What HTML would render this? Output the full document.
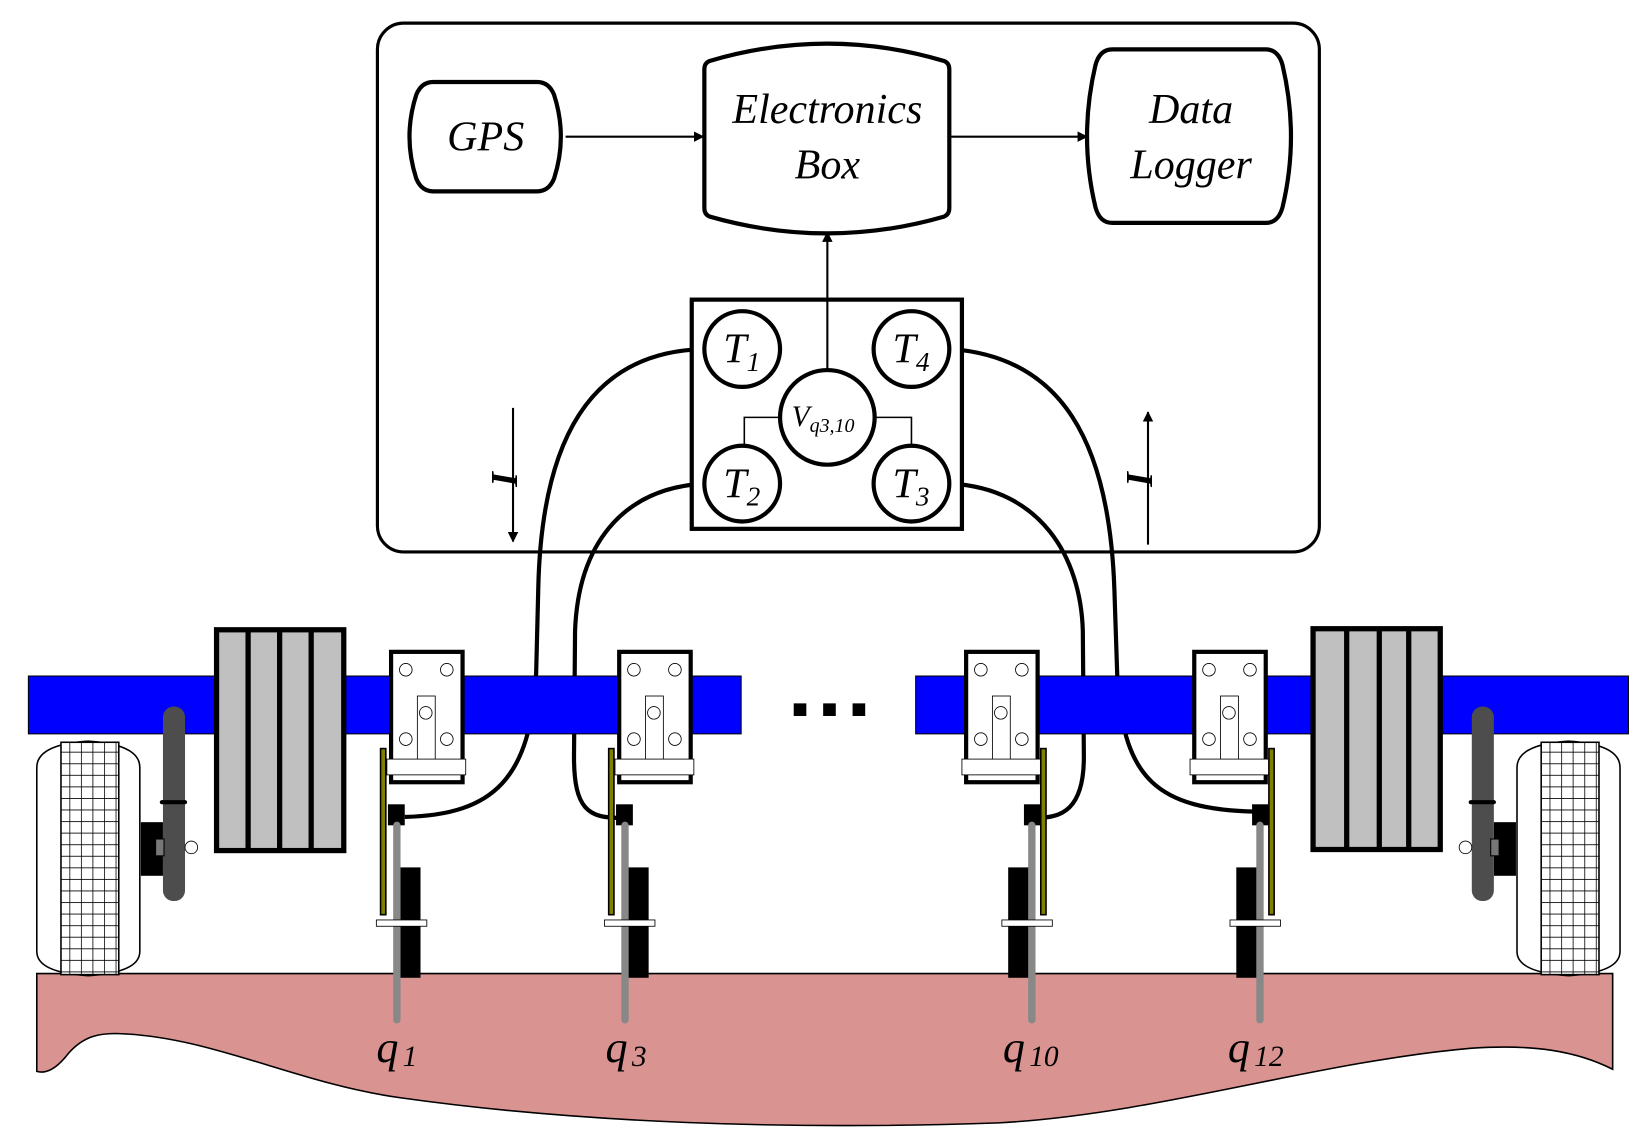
<!DOCTYPE html>
<html><head><meta charset="utf-8"><style>
html,body{margin:0;padding:0;background:#fff}
svg{display:block}
text{font-family:"Liberation Serif",serif;font-style:italic;fill:#000}
</style></head><body>
<svg width="1640" height="1146" viewBox="0 0 1560 1090" preserveAspectRatio="none" xmlns="http://www.w3.org/2000/svg">
<defs>
<marker id="ah" markerWidth="10" markerHeight="10" refX="9" refY="5" orient="auto" markerUnits="userSpaceOnUse">
<path d="M0,0 L10,5 L0,10 Z" fill="#000"/></marker>
<pattern id="tread" width="11" height="11" patternUnits="userSpaceOnUse">
<rect width="11" height="11" fill="#fff"/><path d="M0,0H11M0,0V11" stroke="#000" stroke-width="1.5"/></pattern>
</defs>

<rect x="359" y="22" width="896" height="503" rx="25" fill="none" stroke="#000" stroke-width="3"/>
<path d="M412,78 H511 Q522,78 527,90 Q540,130 527,170 Q522,182 511,182 H412 Q401,182 396,170 Q383,130 396,90 Q401,78 412,78 Z" fill="#fff" stroke="#000" stroke-width="4"/>
<text x="462" y="143" font-size="40" text-anchor="middle">GPS</text>
<path d="M675,58 Q787,25 898,58 Q903,60 903,66 V198 Q903,204 898,206 Q787,238 675,206 Q670,204 670,198 V66 Q670,60 675,58 Z" fill="#fff" stroke="#000" stroke-width="4"/>
<text x="787" y="117" font-size="40" text-anchor="middle">Electronics</text>
<text x="787" y="170" font-size="40" text-anchor="middle">Box</text>
<path d="M1058,47 H1204 Q1216,47 1220,62 Q1236,130 1220,197 Q1216,212 1204,212 H1058 Q1046,212 1042,197 Q1026,130 1042,62 Q1046,47 1058,47 Z" fill="#fff" stroke="#000" stroke-width="4"/>
<text x="1133" y="117" font-size="40" text-anchor="middle">Data</text>
<text x="1133" y="170" font-size="40" text-anchor="middle">Logger</text>
<line x1="538" y1="130" x2="669" y2="130" stroke="#000" stroke-width="2" marker-end="url(#ah)"/>
<line x1="903" y1="130" x2="1034" y2="130" stroke="#000" stroke-width="2" marker-end="url(#ah)"/>
<line x1="787" y1="352" x2="787" y2="221" stroke="#000" stroke-width="2" marker-end="url(#ah)"/>

<line x1="488" y1="388" x2="488" y2="515" stroke="#000" stroke-width="2" marker-end="url(#ah)"/>
<line x1="1092" y1="518" x2="1092" y2="392" stroke="#000" stroke-width="2" marker-end="url(#ah)"/>
<text x="0" y="0" font-size="36" transform="translate(480,455) rotate(-90) translate(-8,12)" font-weight="bold">I</text>
<text x="0" y="0" font-size="36" transform="translate(1084,455) rotate(-90) translate(-8,12)" font-weight="bold">I</text>

<g fill="none" stroke="#000" stroke-width="4">
<path d="M669,332 C560,335 515,420 512,560 L510,640 C505,740 470,775 385,777"/>
<path d="M669,460 C590,465 550,520 547,600 L546,720 C546,770 560,778 590,778"/>
<path d="M905,332 C1010,340 1055,420 1060,560 L1063,650 C1070,740 1100,770 1195,772"/>
<path d="M905,460 C990,465 1028,530 1030,600 L1031,720 C1031,770 1010,778 985,778"/>
</g>

<rect x="658" y="285" width="257" height="218" fill="#fff" stroke="#000" stroke-width="4"/>
<line x1="787" y1="285" x2="787" y2="352" stroke="#000" stroke-width="2"/>
<path d="M742,397 H708 V423 M832,397 H867 V423" fill="none" stroke="#000" stroke-width="1.5"/>
<g fill="#fff" stroke="#000" stroke-width="4">
<circle cx="706" cy="332" r="36"/><circle cx="867" cy="332" r="36"/>
<circle cx="706" cy="460" r="36"/><circle cx="867" cy="460" r="36"/>
<circle cx="787" cy="397" r="45"/></g>
<text x="688" y="345" font-size="40">T<tspan font-size="26" dy="8">1</tspan></text>
<text x="849" y="345" font-size="40">T<tspan font-size="26" dy="8">4</tspan></text>
<text x="688" y="473" font-size="40">T<tspan font-size="26" dy="8">2</tspan></text>
<text x="849" y="473" font-size="40">T<tspan font-size="26" dy="8">3</tspan></text>
<text x="753" y="405" font-size="28">V<tspan font-size="19" dy="6">q3,10</tspan></text>

<path d="M35,926 H1534 V1017 C1500,1000 1460,993 1400,997 C1250,1010 1100,1060 950,1068 C750,1075 550,1068 380,1044 C280,1030 200,985 110,983 C95,983 80,985 65,1002 C55,1015 45,1022 35,1019 Z" fill="#d99391" stroke="#000" stroke-width="1.5"/>

<rect x="27" y="643" width="678" height="55" fill="#0000ff" stroke="#000" stroke-width="1"/>
<rect x="871" y="643" width="678" height="55" fill="#0000ff" stroke="#000" stroke-width="1"/>
<g fill="#000"><rect x="755" y="669" width="12" height="12"/><rect x="783" y="669" width="12" height="12"/><rect x="811" y="669" width="12" height="12"/></g>

<g stroke="#000" stroke-width="5" fill="#c0c0c0">
<rect x="206" y="599" width="121" height="210"/>
<line x1="236" y1="599" x2="236" y2="809"/><line x1="266" y1="599" x2="266" y2="809"/><line x1="296" y1="599" x2="296" y2="809"/>
<rect x="1249" y="598" width="121" height="210"/>
<line x1="1281" y1="598" x2="1281" y2="808"/><line x1="1312" y1="598" x2="1312" y2="808"/><line x1="1340" y1="598" x2="1340" y2="808"/>
</g>

<path d="M35,730 Q35,708 84,705 Q133,708 133,730 V905 Q133,925 84,928 Q35,925 35,905 Z" fill="#fff" stroke="#000" stroke-width="1.5"/>
<rect x="58" y="706" width="55" height="221" fill="url(#tread)" stroke="#000" stroke-width="1.5"/>
<rect x="134" y="782" width="21" height="51" fill="#000"/>
<rect x="155" y="672" width="21" height="185" rx="10" fill="#4d4d4d"/>
<rect x="152" y="761" width="26" height="4" rx="2" fill="#000"/>
<rect x="148" y="798" width="8" height="16" fill="#777" stroke="#000"/>
<circle cx="182" cy="806" r="6" fill="#fff" stroke="#000" stroke-width="0.8"/>

<path d="M1443,730 Q1443,708 1492,705 Q1541,708 1541,730 V905 Q1541,925 1492,928 Q1443,925 1443,905 Z" fill="#fff" stroke="#000" stroke-width="1.5"/>
<rect x="1466" y="706" width="55" height="221" fill="url(#tread)" stroke="#000" stroke-width="1.5"/>
<rect x="1421" y="782" width="21" height="51" fill="#000"/>
<rect x="1400" y="672" width="21" height="185" rx="10" fill="#4d4d4d"/>
<rect x="1397" y="761" width="26" height="4" rx="2" fill="#000"/>
<rect x="1418" y="798" width="8" height="16" fill="#777" stroke="#000"/>
<circle cx="1394" cy="806" r="6" fill="#fff" stroke="#000" stroke-width="0.8"/>

<g transform="translate(370,0)">
 <rect x="2" y="620" width="68" height="124" fill="#fff" stroke="#000" stroke-width="4"/>
 <g fill="none" stroke="#000" stroke-width="0.8"><circle cx="16" cy="637" r="6"/><circle cx="55" cy="637" r="6"/><circle cx="16" cy="703" r="6"/><circle cx="55" cy="703" r="6"/><circle cx="35" cy="678" r="6"/><rect x="27" y="662" width="17" height="72"/></g>
 <rect x="-2" y="722" width="75" height="15" fill="#fff" stroke="#000" stroke-width="0.8"/>
 <rect x="-8" y="712" width="5" height="158" fill="#808000" stroke="#000" stroke-width="1.5"/>
 <rect x="-1" y="765" width="16" height="20" fill="#000"/>
 <rect x="10" y="825" width="20" height="105" fill="#000"/>
 <line x1="7.5" y1="785" x2="7.5" y2="970" stroke="#888" stroke-width="7" stroke-linecap="round"/>
 <rect x="-12" y="875" width="48" height="6" fill="#fff" stroke="#000" stroke-width="0.8"/>
</g>
<g transform="translate(587,0)">
 <rect x="2" y="620" width="68" height="124" fill="#fff" stroke="#000" stroke-width="4"/>
 <g fill="none" stroke="#000" stroke-width="0.8"><circle cx="16" cy="637" r="6"/><circle cx="55" cy="637" r="6"/><circle cx="16" cy="703" r="6"/><circle cx="55" cy="703" r="6"/><circle cx="35" cy="678" r="6"/><rect x="27" y="662" width="17" height="72"/></g>
 <rect x="-2" y="722" width="75" height="15" fill="#fff" stroke="#000" stroke-width="0.8"/>
 <rect x="-8" y="712" width="5" height="158" fill="#808000" stroke="#000" stroke-width="1.5"/>
 <rect x="-1" y="765" width="16" height="20" fill="#000"/>
 <rect x="10" y="825" width="20" height="105" fill="#000"/>
 <line x1="7.5" y1="785" x2="7.5" y2="970" stroke="#888" stroke-width="7" stroke-linecap="round"/>
 <rect x="-12" y="875" width="48" height="6" fill="#fff" stroke="#000" stroke-width="0.8"/>
</g>
<g transform="translate(917,0)">
 <rect x="2" y="620" width="68" height="124" fill="#fff" stroke="#000" stroke-width="4"/>
 <g fill="none" stroke="#000" stroke-width="0.8"><circle cx="16" cy="637" r="6"/><circle cx="55" cy="637" r="6"/><circle cx="16" cy="703" r="6"/><circle cx="55" cy="703" r="6"/><circle cx="35" cy="678" r="6"/><rect x="27" y="662" width="17" height="72"/></g>
 <rect x="-2" y="722" width="75" height="15" fill="#fff" stroke="#000" stroke-width="0.8"/>
 <rect x="73" y="712" width="5" height="158" fill="#808000" stroke="#000" stroke-width="1.5"/>
 <rect x="57" y="765" width="16" height="20" fill="#000"/>
 <rect x="42" y="825" width="20" height="105" fill="#000"/>
 <line x1="64.5" y1="785" x2="64.5" y2="970" stroke="#888" stroke-width="7" stroke-linecap="round"/>
 <rect x="36" y="875" width="48" height="6" fill="#fff" stroke="#000" stroke-width="0.8"/>
</g>
<g transform="translate(1134,0)">
 <rect x="2" y="620" width="68" height="124" fill="#fff" stroke="#000" stroke-width="4"/>
 <g fill="none" stroke="#000" stroke-width="0.8"><circle cx="16" cy="637" r="6"/><circle cx="55" cy="637" r="6"/><circle cx="16" cy="703" r="6"/><circle cx="55" cy="703" r="6"/><circle cx="35" cy="678" r="6"/><rect x="27" y="662" width="17" height="72"/></g>
 <rect x="-2" y="722" width="75" height="15" fill="#fff" stroke="#000" stroke-width="0.8"/>
 <rect x="73" y="712" width="5" height="158" fill="#808000" stroke="#000" stroke-width="1.5"/>
 <rect x="57" y="765" width="16" height="20" fill="#000"/>
 <rect x="42" y="825" width="20" height="105" fill="#000"/>
 <line x1="64.5" y1="785" x2="64.5" y2="970" stroke="#888" stroke-width="7" stroke-linecap="round"/>
 <rect x="36" y="875" width="48" height="6" fill="#fff" stroke="#000" stroke-width="0.8"/>
</g>

<text x="358" y="1010" font-size="42">q<tspan font-size="28" dx="4" dy="4">1</tspan></text>
<text x="576" y="1010" font-size="42">q<tspan font-size="28" dx="4" dy="4">3</tspan></text>
<text x="954" y="1010" font-size="42">q<tspan font-size="28" dx="4" dy="4">10</tspan></text>
<text x="1168" y="1010" font-size="42">q<tspan font-size="28" dx="4" dy="4">12</tspan></text>
</svg>
</body></html>
